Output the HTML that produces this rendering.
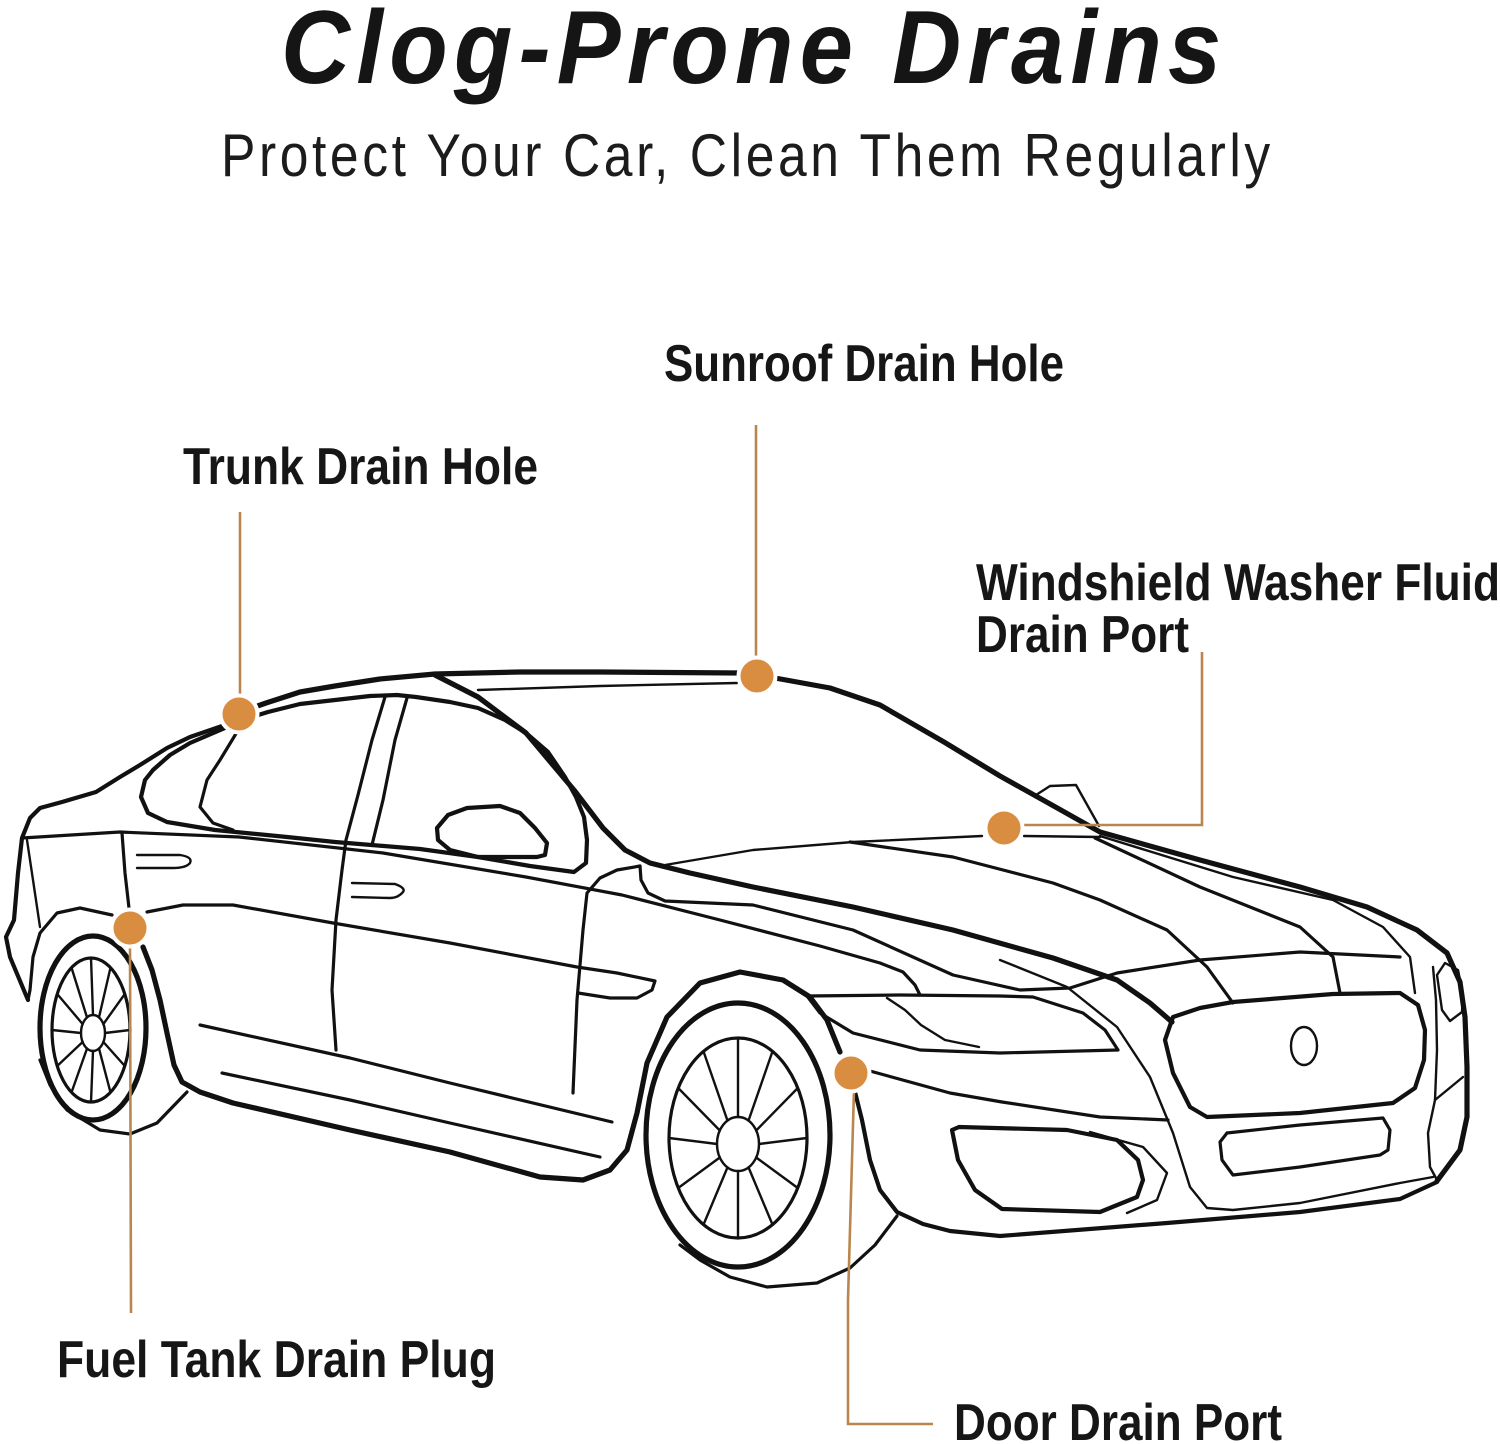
<!DOCTYPE html>
<html>
<head>
<meta charset="utf-8">
<style>
  html,body{margin:0;padding:0;background:#fff;}
  svg{display:block;}
  .k{fill:none;stroke:#111;stroke-linejoin:round;stroke-linecap:round;}
  .t1{stroke-width:2.4;}
  .t2{stroke-width:3.2;}
  .t3{stroke-width:4.2;}
  .t4{stroke-width:5.2;}
  .ld{fill:none;stroke:#b9874e;stroke-width:2.6;}
  .dot{fill:#d98d40;stroke:#fff;stroke-width:4;}
  .lab{font-family:"Liberation Sans",Arial,sans-serif;font-weight:bold;font-size:52px;fill:#161616;}
</style>
</head>
<body>
<svg width="1500" height="1444" viewBox="0 0 1500 1444" xmlns="http://www.w3.org/2000/svg">
  <rect width="1500" height="1444" fill="#fff"/>

  <!-- Titles -->
  <text transform="translate(281,83) scale(0.92,1)" x="0" y="0" font-family="Liberation Sans, Arial, sans-serif" font-weight="bold" font-style="italic" font-size="104" fill="#151515" textLength="1022" lengthAdjust="spacing">Clog-Prone Drains</text>
  <text transform="translate(221,176) scale(0.86,1)" x="0" y="0" font-family="Liberation Sans, Arial, sans-serif" font-size="60" fill="#1c1c1c" textLength="1220" lengthAdjust="spacing">Protect Your Car, Clean Them Regularly</text>

  <!-- Labels -->
  <text class="lab" x="664" y="381" textLength="400" lengthAdjust="spacingAndGlyphs">Sunroof Drain Hole</text>
  <text class="lab" x="183" y="484" textLength="355" lengthAdjust="spacingAndGlyphs">Trunk Drain Hole</text>
  <text class="lab" x="976" y="600" textLength="524" lengthAdjust="spacingAndGlyphs">Windshield Washer Fluid</text>
  <text class="lab" x="976" y="652" textLength="213" lengthAdjust="spacingAndGlyphs">Drain Port</text>
  <text class="lab" x="57" y="1377" textLength="439" lengthAdjust="spacingAndGlyphs">Fuel Tank Drain Plug</text>
  <text class="lab" x="954" y="1440" textLength="328" lengthAdjust="spacingAndGlyphs">Door Drain Port</text>

  <!-- CAR -->
  <g class="k">
    <!-- roof outer -->
    <polyline class="t4" points="252,708 266,703 300,692 335,686 380,679 435,674 520,672 600,672 740,673"/>
    <polyline class="t4" points="775,678 830,688 880,705 944,742 1000,776 1043,800 1100,832 1200,860 1300,887 1367,907 1417,930 1447,953 1460,982 1465,1017 1467,1067 1467,1117 1460,1150 1437,1181"/>
    <!-- rear / trunk outline -->
    <polyline class="t3" points="252,712 225,725 190,737 167,748 140,765 120,777 96,792 62,802 40,808 30,818 22,838 18,873 14,920 6,937 10,957 28,1000"/>
    <!-- greenhouse outline -->
    <polyline class="t3" points="255,716 268,712 300,704 335,700 370,696 397,695 416,697 450,702 478,708 505,720 526,733 548,752 565,777 576,797 584,817 587,840 586,863 574,872 530,866 478,857 420,849 335,842 287,837 215,830 167,822 148,813 141,797 145,780 153,770 170,755 190,743 225,728 248,719"/>
    <!-- A-pillar & hood crease -->
    <polyline class="t4" points="435,675 478,697 526,733 574,790 603,828 625,850 650,863 690,873 753,887 853,907 953,930 1053,958 1117,980 1150,1003 1172,1022"/>
    <!-- windshield top -->
    <polyline class="t1" points="478,690 600,686 737,683"/>
    <!-- cowl -->
    <polyline class="t1" points="665,865 753,850 853,842 982,836"/>
    <polyline class="t1" points="1024,836 1100,837"/>
    <!-- hood lines -->
    <polyline class="t2" points="850,842 953,857 1053,883 1100,900 1167,930 1207,967 1233,1003"/>
    <polyline class="t2" points="1095,838 1200,887 1300,927 1333,957 1340,993"/>
    <polyline class="t1" points="1100,836 1233,877 1333,900 1383,927 1410,957 1415,993"/>
    <!-- washer fin -->
    <polyline class="t1" points="1036,795 1050,786 1076,785 1099,826"/>
    <!-- front door front edge -->
    <polyline class="t2" points="573,1093 577,1000 583,930 587,893 600,878 617,870 640,866"/>
    <!-- fender swoosh & hood front edge -->
    <polyline class="t2" points="640,866 641,880 648,893 665,901 753,905 853,930 953,975 1020,990 1070,988 1117,973 1200,960 1300,952 1400,957"/>
    <!-- beltline -->
    <polyline class="t2" points="22,838 120,832 239,837 383,853 526,877 622,895 720,920 820,946 880,963 903,972 915,985 920,995"/>
    <!-- headlight -->
    <polyline class="t2" points="807,996 900,995 1000,996 1033,997 1083,1013 1105,1030 1118,1050 1000,1053 920,1050 853,1033 820,1013 807,996"/>
    <polyline class="t1" points="887,998 905,1010 921,1025 945,1040 979,1047"/>
    <!-- front face boundary -->
    <polyline class="t1" points="1000,960 1067,987 1117,1027 1150,1077 1173,1133 1190,1187 1207,1208 1233,1210 1300,1203 1400,1183 1433,1177"/>
    <!-- fender line below headlight -->
    <polyline class="t2" points="870,1071 950,1093 1002,1102 1100,1117 1168,1120"/>
    <!-- rocker + wheel arches -->
    <polyline class="t4" points="143,947 152,970 160,1000 167,1033 174,1065 182,1082 200,1092 233,1103 350,1130 450,1152 540,1177 583,1180 610,1170 627,1150 637,1113 647,1063 667,1017 700,983 740,972 783,980 810,997 827,1020 840,1052"/>
    <!-- front fender + bumper bottom -->
    <polyline class="t3" points="855,1092 862,1120 870,1160 880,1190 897,1212 923,1224 950,1231 1000,1236 1167,1223 1300,1212 1400,1199 1437,1182"/>
    <!-- tire outer arcs -->
    <polyline class="t2" points="680,1245 700,1260 730,1277 767,1287 817,1283 850,1268 875,1245 897,1216"/>
    <polyline class="t2" points="40,1060 50,1085 67,1110 100,1130 130,1134 157,1123 187,1092"/>
    <!-- rear wheel arch outer -->
    <polyline class="t2" points="112,915 80,908 57,913 40,933 33,957 30,990 28,1000"/>
    <!-- rear inner -->
    <polyline class="t1" points="27,840 33,880 40,927"/>
    <!-- rear door rear edge -->
    <polyline class="t2" points="122,833 125,873 129,908"/>
    <!-- C pillar -->
    <polyline class="t2" points="237,732 220,760 207,780 200,807 213,823 233,830"/>
    <!-- B pillar / door edge -->
    <polyline class="t2" points="385,697 372,740 358,795 346,840 342,870 336,920 332,990 336,1050"/>
    <polyline class="t2" points="407,698 395,740 383,800 372,845"/>
    <!-- mirror -->
    <polyline class="t3" points="437,828 448,815 467,808 500,806 520,813 535,828 547,843 545,855 537,857 478,857 450,850 438,840 437,828"/>
    <!-- handles -->
    <path class="t1" d="M137,855 L180,855 Q193,857 190,863 Q186,868 173,868 L137,868"/>
    <path class="t1" d="M352,883 L395,884 Q406,888 403,892 Q398,898 390,898 L352,897"/>
    <!-- side crease -->
    <polyline class="t2" points="147,912 183,905 233,905 333,923 450,943 577,967 617,973 655,981 652,990 637,998 610,998 578,993"/>
    <!-- lower side lines -->
    <polyline class="t2" points="200,1025 350,1058 450,1083 612,1122"/>
    <polyline class="t2" points="222,1073 350,1100 450,1123 600,1157"/>
    <!-- grille -->
    <polyline class="t3" points="1173,1017 1200,1008 1233,1002 1333,994 1400,993 1418,1005 1425,1030 1424,1060 1415,1088 1393,1103 1300,1113 1207,1117 1190,1107 1173,1073 1165,1040 1173,1017"/>
    <ellipse class="t1" cx="1304" cy="1046" rx="13" ry="19"/>
    <polyline class="t2" points="1227,1133 1300,1125 1383,1118 1390,1130 1388,1150 1380,1155 1300,1167 1233,1175 1222,1160 1220,1142 1227,1133"/>
    <!-- fog intake -->
    <polyline class="t3" points="959,1127 1067,1130 1117,1140 1138,1160 1143,1180 1137,1197 1100,1212 1002,1209 975,1190 958,1160 952,1130 959,1127"/>
    <polyline class="t1" points="1090,1132 1143,1147 1167,1173 1157,1200 1127,1213"/>
    <!-- right corner -->
    <polyline class="t1" points="1437,975 1445,963 1458,970 1463,995 1462,1012 1450,1021 1442,1010 1437,975"/>
    <polyline class="t1" points="1433,967 1436,1000 1437,1050 1435,1100 1428,1133 1430,1167 1437,1180"/>
    <polyline class="t1" points="1435,1100 1463,1077"/>

    <!-- front wheel -->
    <ellipse class="t4" cx="738" cy="1135" rx="92" ry="132"/>
    <ellipse class="t2" cx="738" cy="1138" rx="69" ry="100"/>
    <ellipse class="t1" cx="738" cy="1144" rx="21" ry="27"/>
    <path class="t1" d="M738,1117 L738,1038 M748.5,1120.6 L772.5,1051.4 M756.2,1130.5 L797.8,1088 M759,1144 L807,1138 M756.2,1157.5 L797.8,1188 M748.5,1167.4 L772.5,1224.6 M738,1171 L738,1238 M727.5,1167.4 L703.5,1224.6 M719.8,1157.5 L678.2,1188 M717,1144 L669,1138 M719.8,1130.5 L678.2,1088 M727.5,1120.6 L703.5,1051.4"/>

    <!-- rear wheel -->
    <ellipse class="t4" cx="93" cy="1028" rx="53" ry="92"/>
    <ellipse class="t2" cx="91" cy="1030" rx="39" ry="72"/>
    <ellipse class="t1" cx="93" cy="1033" rx="12" ry="18"/>
    <path class="t1" d="M93,1015 L91,958 M99,1017.4 L110.5,967.6 M103.4,1024 L124.8,994 M105,1033 L130,1030 M103.4,1042 L124.8,1066 M99,1048.6 L110.5,1092.4 M93,1051 L91,1102 M87,1048.6 L71.5,1092.4 M82.6,1042 L57.2,1066 M81,1033 L52,1030 M82.6,1024 L57.2,994 M87,1017.4 L71.5,967.6"/>
  </g>

  <!-- Leader lines -->
  <polyline class="ld" points="240,512 240,700"/>
  <polyline class="ld" points="756,425 756,660"/>
  <polyline class="ld" points="1202,652 1202,825 1020,825"/>
  <polyline class="ld" points="130,945 131,1313"/>
  <polyline class="ld" points="854,1090 848,1300 848,1424 933,1424"/>

  <!-- Dots -->
  <circle class="dot" cx="239" cy="714" r="18.5"/>
  <circle class="dot" cx="757" cy="676" r="18.5"/>
  <circle class="dot" cx="1004" cy="828" r="18.5"/>
  <circle class="dot" cx="130" cy="928" r="18.5"/>
  <circle class="dot" cx="851" cy="1073" r="18.5"/>
</svg>
</body>
</html>
